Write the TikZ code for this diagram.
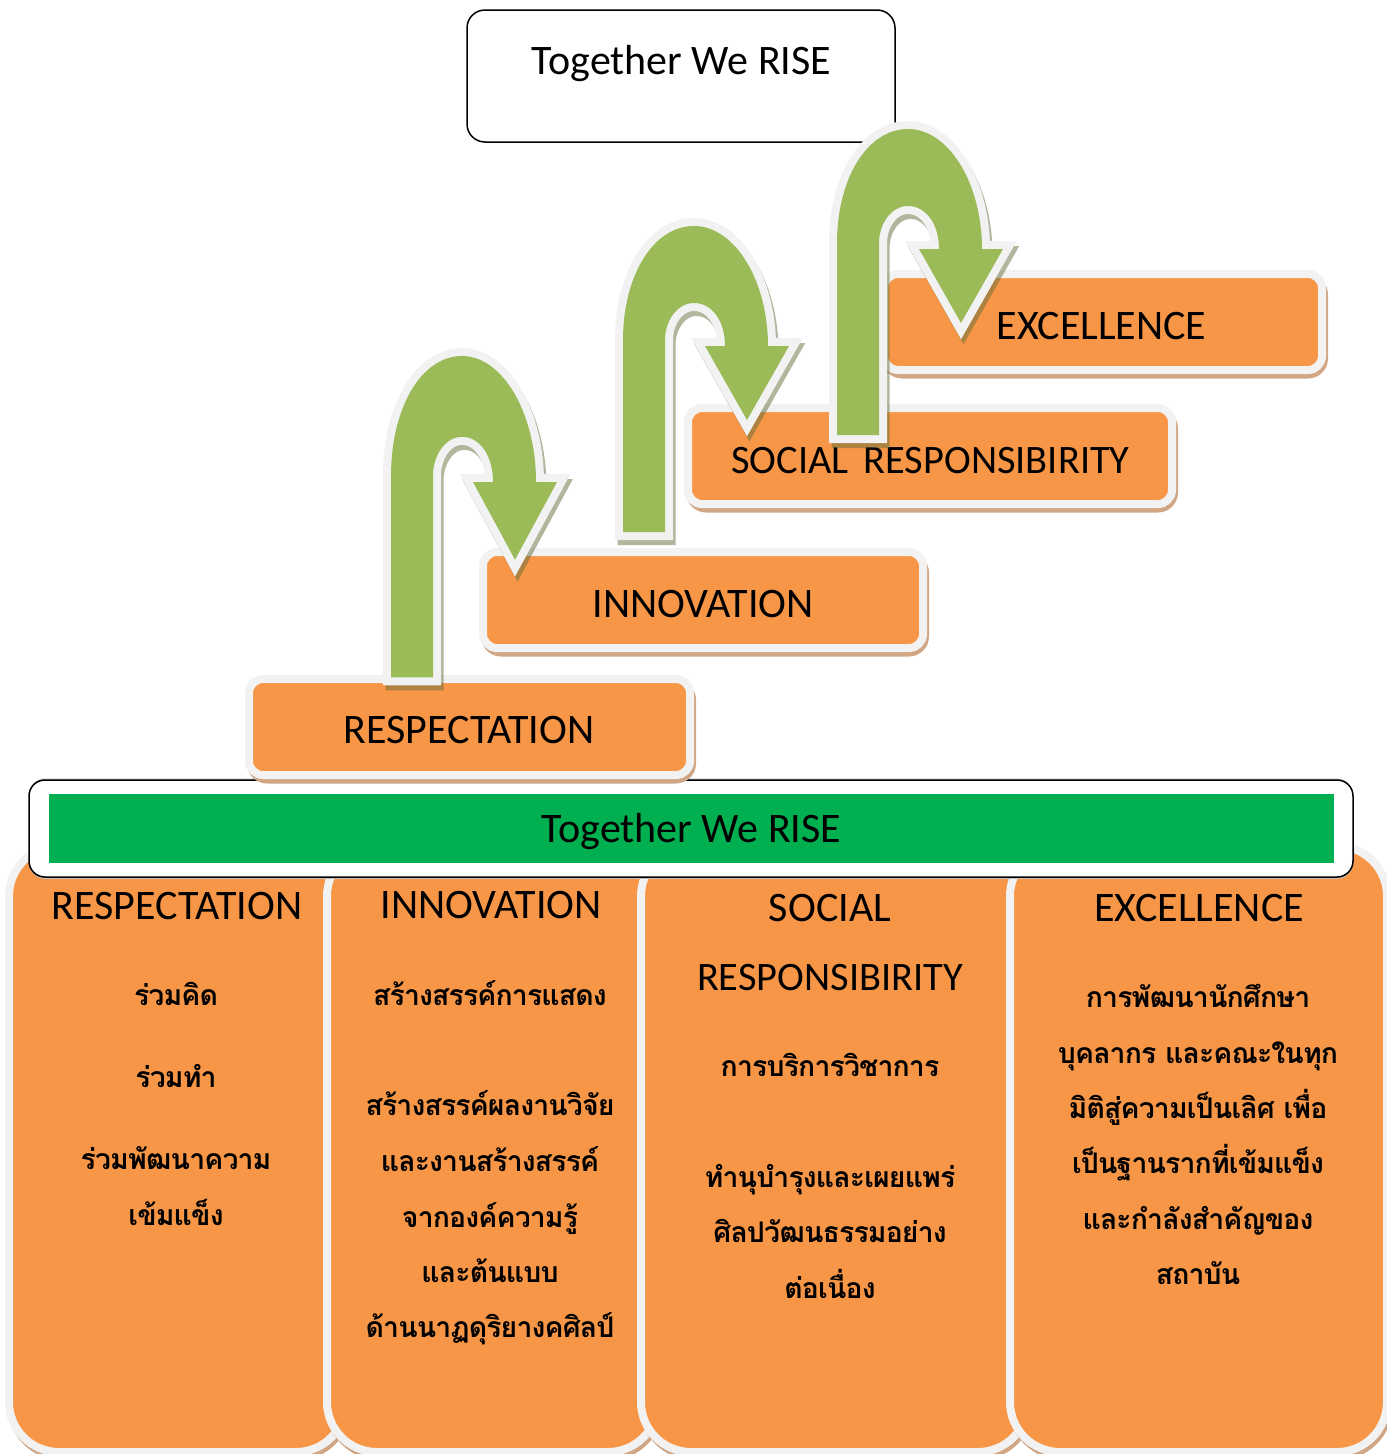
\documentclass[tikz,border=0pt]{standalone}
\usepackage{fontspec}
\newfontfamily\thaifont[Script=Thai,LetterSpace=-3]{Loma}
\newfontfamily\latinfont{Carlito}
\definecolor{orangefill}{HTML}{F79646}
\definecolor{lightedge}{HTML}{F2F2F2}
\definecolor{tanshadow}{HTML}{D0A685}
\definecolor{greenarrow}{HTML}{9BBB59}
\definecolor{arrowshadow}{HTML}{646E3C}
\definecolor{bargreen}{HTML}{00B050}
\tikzset{
  orangecard/.style={draw=lightedge,line width=8pt,fill=orangefill,rounded corners=#1,inner sep=0pt},
  latinlabel/.style={anchor=base,inner sep=0pt,font=\latinfont\fontsize{42}{42}\selectfont,text=black},
  latinsmall/.style={anchor=base,inner sep=0pt,font=\latinfont\fontsize{40.4}{41}\selectfont,text=black},
  thailabel/.style={anchor=base,inner sep=0pt,font=\thaifont\bfseries\fontsize{28.4}{29}\selectfont,text=black},
}
\newcommand{\cardbox}[6]{%
  \fill[tanshadow,rounded corners=#6+6] ({#2-8+2},{#3-8+4.5}) rectangle ({#4+8+2},{#5+8+4.5});
  \node[orangecard=#6,minimum width={#4-#2+8},minimum height={#5-#3+8}] (#1) at ({(#2+#4)/2},{(#3+#5)/2}) {};
}
\newcommand{\bentarrow}[4]{%
  \def\arrowoutline{(0,306) -- (0,114) .. controls (0,50) and (30,0) .. (71,0) .. controls (112,0) and (145,55) .. (145,120) -- (166,120) -- (124,194) -- (82,120) -- (102,120) .. controls (102,95) and (89,77) .. (71,77) .. controls (54,77) and (42,95) .. (42,114) -- (42,306) -- cycle}
  \begin{scope}[shift={(#2+2.5,#3+5)},yscale=#4,transparency group,opacity=.5]
    \path[draw=arrowshadow,fill=arrowshadow,line width=16pt,miter limit=10] \arrowoutline;
  \end{scope}
  \begin{scope}[shift={(#2,#3)},yscale=#4]
    \path[draw=lightedge,fill=lightedge,line width=16pt,miter limit=10] \arrowoutline;
    \path[fill=greenarrow] \arrowoutline;
  \end{scope}
}
\begin{document}
\begin{tikzpicture}[x=1pt,y=-1pt]
\useasboundingbox (0,0) rectangle (1387,1454);
% columns
\cardbox{colA}{13}{850}{342}{1448}{50}
\cardbox{colB}{331}{850}{654}{1448}{50}
\cardbox{colC}{645}{850}{1024}{1448}{50}
\cardbox{colD}{1014}{850}{1383}{1448}{50}
% title box
\node[draw=black,line width=1.5pt,fill=white,rounded corners=18pt,minimum width=428pt,minimum height=132pt,inner sep=0pt] (titlebox) at (681,76) {};
\node[latinlabel] (titletext) at (681.5,74) {Together We RISE};
% banner
\fill[black!25,rounded corners=16pt] (29,778.5) rectangle (1353,878.8);
\node[draw=black,line width=1.5pt,fill=white,rounded corners=16pt,minimum width=1324pt,minimum height=97pt,inner sep=0pt] (bannerbox) at (691,828.5) {};
\node[fill=bargreen,minimum width=1285pt,minimum height=69pt,inner sep=0pt] (bannerfill) at (691.5,828.5) {};
\node[latinlabel] (bannertext) at (691.5,842) {Together We RISE};
% steps
\cardbox{stepA}{253}{683}{686}{771}{14}
\node[latinlabel] (stepAtext) at (469,743) {RESPECTATION};
\cardbox{stepB}{487}{556}{919}{644}{14}
\node[latinlabel] (stepBtext) at (703,617) {INNOVATION};
\bentarrow{one}{391}{356}{1.05}
\cardbox{stepC}{692}{412}{1168}{500}{14}
\node[latinsmall] (stepCtext) at (930.5,473) {SOCIAL\hspace{15pt}RESPONSIBIRITY};
\bentarrow{two}{623}{226}{1}
\cardbox{stepD}{888}{278}{1318}{366}{14}
\node[latinlabel] (stepDtext) at (1101.5,339) {EXCELLENCE};
\bentarrow{three}{837}{129}{1}
% column A
\node[latinlabel] (aH) at (177,919) {RESPECTATION};
\node[thailabel] (aA) at (176,1005) {ร่วมคิด};
\node[thailabel] (aB) at (176,1087) {ร่วมทำ};
\node[thailabel] (aC) at (176,1169) {ร่วมพัฒนาความ};
\node[thailabel] (aD) at (176,1225) {เข้มแข็ง};
% column B
\node[latinlabel] (bH) at (491,918) {INNOVATION};
\node[thailabel] (bA) at (490,1005) {สร้างสรรค์การแสดง};
\node[thailabel] (bB) at (490,1115) {สร้างสรรค์ผลงานวิจัย};
\node[thailabel] (bC) at (490,1171) {และงานสร้างสรรค์};
\node[thailabel] (bD) at (490,1227) {จากองค์ความรู้};
\node[thailabel] (bE) at (490,1282) {และต้นแบบ};
\node[thailabel] (bF) at (490,1337) {ด้านนาฏดุริยางคศิลป์};
% column C
\node[latinlabel] (cH) at (830,921) {SOCIAL};
\node[latinsmall] (cI) at (830,990) {RESPONSIBIRITY};
\node[thailabel] (cA) at (830,1076) {การบริการวิชาการ};
\node[thailabel] (cB) at (830,1187) {ทำนุบำรุงและเผยแพร่};
\node[thailabel] (cC) at (830,1242) {ศิลปวัฒนธรรมอย่าง};
\node[thailabel] (cD) at (830,1298) {ต่อเนื่อง};
% column D
\node[latinlabel] (dH) at (1199,921) {EXCELLENCE};
\node[thailabel] (dA) at (1198,1007) {การพัฒนานักศึกษา};
\node[thailabel] (dB) at (1198,1063) {บุคลากร และคณะในทุก};
\node[thailabel] (dC) at (1198,1118) {มิติสู่ความเป็นเลิศ เพื่อ};
\node[thailabel] (dD) at (1198,1173) {เป็นฐานรากที่เข้มแข็ง};
\node[thailabel] (dE) at (1198,1229) {และกำลังสำคัญของ};
\node[thailabel] (dF) at (1198,1284) {สถาบัน};
\end{tikzpicture}
\end{document}
